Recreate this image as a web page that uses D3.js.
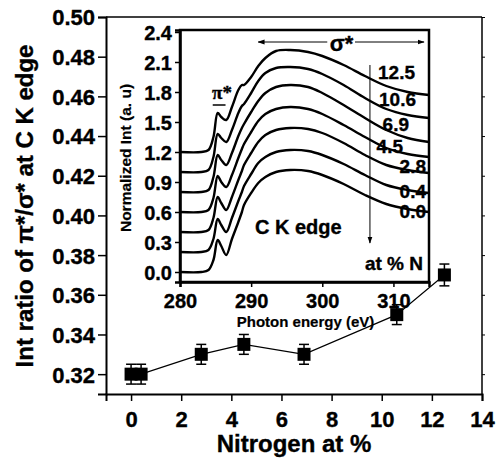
<!DOCTYPE html>
<html><head><meta charset="utf-8">
<script src="https://cdn.jsdelivr.net/npm/d3@7"></script>
<style>
html,body{margin:0;padding:0;background:#fff;}
svg text{font-family:"Liberation Sans",Arial,sans-serif;font-weight:bold;fill:#000;stroke:#000;stroke-width:0.35px;}
</style></head>
<body>
<svg id="c" width="499" height="463"></svg>
<script>
// ---- main chart data ----
const nitrogen = [0, 0.4, 2.8, 4.5, 6.9, 10.6, 12.5];
const ratio    = [0.320, 0.320, 0.330, 0.335, 0.330, 0.350, 0.370];
const ratioErr = [0.005, 0.005, 0.005, 0.005, 0.005, 0.005, 0.0055];
const xTicks = [0, 2, 4, 6, 8, 10, 12, 14];
const yTicks = [0.32, 0.34, 0.36, 0.38, 0.40, 0.42, 0.44, 0.46, 0.48, 0.50];

// ---- inset spectra data ----
const energy = [280, 283, 284, 284.7, 285.3, 285.8, 286.5, 287.3, 288.2, 288.7, 289.0, 290, 291, 292, 293.5, 295.5, 298, 300, 303, 306, 309, 312, 315];
const spec00  = [0.00,0.00,0.02,0.12,0.32,0.26,0.17,0.33,0.50,0.60,0.67,0.79,0.89,0.95,1.00,1.02,1.01,0.97,0.88,0.77,0.68,0.63,0.60];
const spec04  = [0.20,0.20,0.22,0.33,0.53,0.47,0.40,0.54,0.71,0.80,0.86,0.98,1.09,1.15,1.20,1.22,1.21,1.17,1.08,0.97,0.87,0.82,0.79];
const spec28  = [0.40,0.40,0.42,0.54,0.75,0.69,0.62,0.75,0.92,1.01,1.07,1.19,1.30,1.37,1.42,1.44,1.43,1.39,1.29,1.17,1.07,1.02,0.99];
const spec45  = [0.60,0.60,0.62,0.74,0.96,0.90,0.85,0.97,1.14,1.23,1.28,1.40,1.51,1.58,1.63,1.65,1.63,1.58,1.47,1.35,1.24,1.18,1.15];
const spec69  = [0.80,0.80,0.82,0.95,1.17,1.12,1.07,1.19,1.36,1.44,1.48,1.60,1.71,1.79,1.85,1.87,1.85,1.79,1.67,1.54,1.42,1.34,1.30];
const spec106 = [1.00,1.00,1.02,1.15,1.38,1.34,1.30,1.42,1.59,1.66,1.68,1.79,1.91,1.99,2.04,2.05,2.03,1.98,1.87,1.74,1.63,1.57,1.54];
const spec125 = [1.20,1.20,1.22,1.35,1.59,1.55,1.52,1.65,1.82,1.87,1.87,1.95,2.06,2.14,2.21,2.22,2.20,2.16,2.07,1.96,1.86,1.80,1.77];
const spectra = [spec00, spec04, spec28, spec45, spec69, spec106, spec125];
const specLabels = ["0.0", "0.4", "2.8", "4.5", "6.9", "10.6", "12.5"];
const insetXTicks = [280, 290, 300, 310];
const insetYTicks = [0.0, 0.3, 0.6, 0.9, 1.2, 1.5, 1.8, 2.1, 2.4];

const svg = d3.select("#c");

// ===== main chart =====
const x = d3.scaleLinear().domain([-1, 14]).range([106, 482]);
const y = d3.scaleLinear().domain([0.31, 0.50]).range([394, 17]);

// frame top/right
svg.append("line").attr("x1", x(-1)).attr("x2", x(14)).attr("y1", y(0.5)).attr("y2", y(0.5)).attr("stroke", "#000").attr("stroke-width", 1.5);
svg.append("line").attr("x1", x(14)).attr("x2", x(14)).attr("y1", y(0.5)).attr("y2", y(0.31)).attr("stroke", "#000").attr("stroke-width", 1.5);

// bottom axis
const gx = svg.append("g").attr("transform", `translate(0,${y(0.31)})`);
gx.call(d3.axisBottom(x).tickValues(d3.range(-1, 14.01, 1)).tickSize(5).tickFormat(""));
gx.call(d3.axisBottom(x).tickValues(xTicks).tickSize(7).tickFormat(d3.format("d")).tickPadding(5));
gx.selectAll("path.domain").attr("stroke-width", 2);
gx.selectAll(".tick line").attr("stroke-width", 1.5);
gx.selectAll("text").style("font-size", "22px").attr("dy", "0.95em");

// left axis
const gy = svg.append("g").attr("transform", `translate(${x(-1)},0)`);
gy.call(d3.axisLeft(y).tickValues(d3.range(0.31, 0.5001, 0.01)).tickSize(5).tickFormat(""));
gy.call(d3.axisLeft(y).tickValues(yTicks).tickSize(8).tickFormat(d3.format(".2f")).tickPadding(3));
gy.selectAll("path.domain").attr("stroke-width", 2);
gy.selectAll(".tick line").attr("stroke-width", 1.5);
gy.selectAll("text").style("font-size", "22px").attr("dy", "0.36em");

// right axis small ticks
const gr = svg.append("g").attr("transform", `translate(${x(14)},0)`);
gr.call(d3.axisRight(y).tickValues(yTicks).tickSize(3).tickFormat(""));
gr.selectAll("path.domain").remove();

// axis titles
svg.append("text").attr("x", (x(-1) + x(14)) / 2).attr("y", 452).attr("text-anchor", "middle")
  .style("font-size", "24px").text("Nitrogen at %");
svg.append("text").attr("transform", `translate(33,${206}) rotate(-90)`).attr("text-anchor", "middle")
  .style("font-size", "24px").text("Int ratio of π*/σ* at C K edge");

// data line
const pts = nitrogen.map((n, i) => [n, ratio[i], ratioErr[i]]);
svg.append("path").datum(pts)
  .attr("d", d3.line().x(d => x(d[0])).y(d => y(d[1])))
  .attr("fill", "none").attr("stroke", "#000").attr("stroke-width", 1.2);
// error bars
const eb = svg.append("g").selectAll("g").data(pts).join("g");
eb.append("line").attr("x1", d => x(d[0])).attr("x2", d => x(d[0]))
  .attr("y1", d => y(d[1] - d[2])).attr("y2", d => y(d[1] + d[2])).attr("stroke", "#000").attr("stroke-width", 1.5);
eb.append("line").attr("x1", d => x(d[0]) - 5).attr("x2", d => x(d[0]) + 5)
  .attr("y1", d => y(d[1] - d[2])).attr("y2", d => y(d[1] - d[2])).attr("stroke", "#000").attr("stroke-width", 1.5);
eb.append("line").attr("x1", d => x(d[0]) - 5).attr("x2", d => x(d[0]) + 5)
  .attr("y1", d => y(d[1] + d[2])).attr("y2", d => y(d[1] + d[2])).attr("stroke", "#000").attr("stroke-width", 1.5);
// square markers
svg.append("g").selectAll("rect").data(pts).join("rect")
  .attr("x", d => x(d[0]) - 6.5).attr("y", d => y(d[1]) - 6.5)
  .attr("width", 13).attr("height", 13).attr("fill", "#000");

// ===== inset =====
const xi = d3.scaleLinear().domain([280, 315]).range([180, 429]);
const yi = d3.scaleLinear().domain([-0.1, 2.42]).range([282, 30]);

svg.append("rect").attr("x", xi(280)).attr("y", yi(2.42)).attr("width", xi(315) - xi(280)).attr("height", yi(-0.1) - yi(2.42))
  .attr("fill", "#fff").attr("stroke", "#000").attr("stroke-width", 2.5);

const gix = svg.append("g").attr("transform", `translate(0,${yi(-0.1)})`);
gix.call(d3.axisBottom(xi).tickValues([285, 295, 305, 315]).tickSize(3).tickFormat(""));
gix.call(d3.axisBottom(xi).tickValues(insetXTicks).tickSize(5).tickFormat(d3.format("d")).tickPadding(4));
gix.selectAll("path.domain").attr("stroke-width", 2.5);
gix.selectAll(".tick line").attr("stroke-width", 1.5);
gix.selectAll("text").style("font-size", "20px").attr("dy", "0.85em");

const giy = svg.append("g").attr("transform", `translate(${xi(280)},0)`);
giy.call(d3.axisLeft(yi).tickValues(d3.range(0, 2.41, 0.15)).tickSize(3).tickFormat(""));
giy.call(d3.axisLeft(yi).tickValues(insetYTicks).tickSize(5).tickFormat(d3.format(".1f")).tickPadding(3));
giy.selectAll("path.domain").attr("stroke-width", 2.5);
giy.selectAll(".tick line").attr("stroke-width", 1.5);
giy.selectAll("text").style("font-size", "20px").attr("dy", "0.36em");

svg.append("text").attr("x", (xi(280) + xi(315)) / 2 + 1).attr("y", 327).attr("text-anchor", "middle")
  .style("font-size", "15px").style("stroke-width", "0.2px").text("Photon energy (eV)");
svg.append("text").attr("transform", `translate(131,${158}) rotate(-90)`).attr("text-anchor", "middle")
  .style("font-size", "15.5px").style("stroke-width", "0.2px").text("Normalized Int (a. u)");

// spectra
const specLine = d3.line().x((d, i) => xi(energy[i])).y(d => yi(d)).curve(d3.curveCatmullRom.alpha(0.5));
svg.append("g").selectAll("path").data(spectra).join("path")
  .attr("d", d => specLine(d)).attr("fill", "none").attr("stroke", "#000").attr("stroke-width", 2.4);

// labels for spectra
const labelPos = [[xi(315) - 3, 218], [xi(315) - 3, 198], [xi(315) - 3, 173], [403, 153], [409, 131], [xi(315) - 13, 106], [xi(315) - 14, 79]];
svg.append("g").selectAll("text").data(specLabels).join("text")
  .attr("x", (d, i) => labelPos[i][0]).attr("y", (d, i) => labelPos[i][1]).attr("text-anchor", "end")
  .style("font-size", "19px").text(d => d);

// vertical arrow
svg.append("defs").html(
  '<marker id="ah" viewBox="0 0 10 10" refX="9" refY="5" markerWidth="7" markerHeight="7" orient="auto-start-reverse"><path d="M0,1.5 L10,5 L0,8.5 Z" fill="#000"/></marker>');
svg.append("line").attr("x1", xi(306.7)).attr("x2", xi(306.7)).attr("y1", yi(2.07)).attr("y2", yi(0.29))
  .attr("stroke", "#000").attr("stroke-width", 1).attr("marker-end", "url(#ah)");

// sigma* arrow
svg.append("line").attr("x1", xi(291)).attr("x2", xi(300.7)).attr("y1", 42).attr("y2", 42)
  .attr("stroke", "#000").attr("stroke-width", 1).attr("marker-start", "url(#ah)");
svg.append("line").attr("x1", xi(304.6)).attr("x2", xi(314.3)).attr("y1", 42).attr("y2", 42)
  .attr("stroke", "#000").attr("stroke-width", 1).attr("marker-end", "url(#ah)");
svg.append("text").attr("x", xi(302.7)).attr("y", 51).attr("text-anchor", "middle").style("font-size", "22px").text("σ*");

// pi* label
svg.append("text").attr("x", xi(285.9)).attr("y", 99).attr("text-anchor", "middle")
  .style("font-family", "'Liberation Serif','Times New Roman',serif").style("font-size", "19px").text("π*");
svg.append("line").attr("x1", xi(284.6)).attr("x2", xi(286.4)).attr("y1", 105).attr("y2", 105).attr("stroke", "#000").attr("stroke-width", 1.5);

svg.append("text").attr("x", 255).attr("y", 234).style("font-size", "20px").text("C K edge");
svg.append("text").attr("x", xi(315) - 6).attr("y", 270).attr("text-anchor", "end").style("font-size", "19px").text("at % N");
</script>
</body></html>
